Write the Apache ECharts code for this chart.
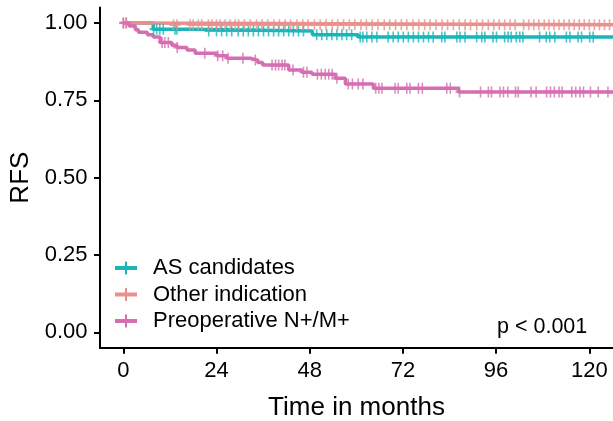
<!DOCTYPE html>
<html>
<head>
<meta charset="utf-8">
<script src="https://cdn.jsdelivr.net/npm/echarts@6/dist/echarts.min.js"></script>
<style>
  html, body { margin: 0; padding: 0; background: #fff; }
  #rfs-plot { width: 613px; height: 421px; }
</style>
</head>
<body>
<div id="rfs-plot"></div>
<script>
// group names
var groupNames = ['AS candidates', 'Other indication', 'Preoperative N+/M+'];
var groupColors = ['#1AB5B9', '#E8918D', '#D46FB2'];

// step times (months) and survival after each step
var asTimes = [0, 7.7, 17.0, 48.7, 60.5];
var asSurv = [1.0, 0.98, 0.974, 0.962, 0.955];
var otherTimes = [0, 2.0];
var otherSurv = [1.0, 0.994];
var preopTimes = [0, 1.5, 3.1, 3.9, 6.2, 7.7, 9.5, 12.5, 13.8, 16.4, 18.5, 24.1, 26.7, 32.7, 34.6, 35.9, 42.6, 46.0, 48.6, 54.6, 57.2, 64.4, 86.3];
var preopSurv = [1.0, 0.99, 0.978, 0.97, 0.962, 0.955, 0.937, 0.928, 0.921, 0.913, 0.902, 0.894, 0.886, 0.880, 0.872, 0.864, 0.848, 0.841, 0.834, 0.821, 0.803, 0.789, 0.777];

// censoring times (months)
var asCensor = [7.8, 8.6, 9.4, 10.3, 13.3, 13.8, 22.0, 24.0, 25.3, 26.6, 27.9, 29.6, 30.9, 32.2, 33.5, 34.8, 36.1, 37.4, 38.7, 40.0, 41.3, 42.6, 43.8, 45.1, 46.4,
  49.8, 51.1, 52.4, 53.7, 55.0, 56.3, 57.5, 58.8, 61.0, 61.7, 62.7, 64.0, 65.3, 68.2, 69.5, 70.8, 72.1, 73.4, 74.7, 76.0, 77.3, 78.6, 79.8,
  82.0, 82.8, 85.9, 86.7, 88.0, 91.0, 92.3, 93.1, 95.2, 96.1, 98.2, 99.1, 99.9, 101.2, 102.1, 102.9, 107.2, 108.9, 109.8, 111.1, 114.1, 115.0, 117.1, 118.0, 120.1, 121.0];
var otherCensor = [0, 0.6, 12.9, 13.8, 17.2, 18.0, 19.3, 20.2, 21.9, 22.8, 24.0, 24.9, 26.2, 27.5, 28.8, 29.7, 31.2, 32.7, 34.3, 35.7, 37.2, 38.8, 40.2, 41.7, 43.1, 44.7,
  46.2, 47.6, 49.2, 50.7, 52.2, 53.8, 55.2, 56.7, 58.2, 59.6, 61.2, 62.6, 64.1, 65.6, 67.2, 68.6, 70.1, 71.6, 73.0, 74.6, 76.1, 77.6, 79.0, 80.5, 82.1, 83.5,
  85.0, 86.5, 88.0, 89.4, 91.0, 92.5, 94.0, 95.4, 96.8, 98.2, 99.6, 100.9, 103.1, 104.4, 105.7, 107.0, 108.4, 109.6, 110.9, 112.2, 113.5, 114.8, 116.1,
  117.4, 118.7, 120.0, 121.3, 122.6, 123.9, 125.2];
var preopCensor = [0, 0.8, 10.0, 10.7, 11.6, 13.9, 21.0, 24.3, 25.6, 27.0, 30.8, 34.0, 38.3, 39.2, 40.0, 40.9, 41.6, 43.7, 46.4, 47.3, 50.0, 51.0, 52.0, 52.9,
  53.8, 55.0, 57.9, 59.0, 60.5, 61.7, 65.0, 65.8, 66.6, 70.0, 70.8, 73.0, 73.8, 76.0, 77.0, 83.3, 84.2, 86.6, 92.0, 94.0, 94.8, 97.0, 97.9, 99.0, 101.0,
  101.7, 105.0, 106.3, 109.0, 110.0, 111.0, 112.2, 113.0, 115.5, 116.5, 117.6, 118.5, 120.3, 122.3, 124.8];

var xTicks = [0, 24, 48, 72, 96, 120];
var yTicks = [0, 0.25, 0.5, 0.75, 1.0];
var xEnd = 126.1;

var plusPath = 'path://M4,0 L6,0 L6,10 L4,10 Z M0,4 L10,4 L10,6 L0,6 Z';
var legendPath = 'path://M0,4.5 L22,4.5 L22,8.5 L0,8.5 Z M10,0 L12,0 L12,13 L10,13 Z';

function stepData(times, surv) {
    var out = [];
    for (var i = 0; i < times.length; i++) {
        out.push([times[i], surv[i]]);
    }
    out.push([xEnd, surv[surv.length - 1]]);
    return out;
}

function survAt(times, surv, t) {
    var s = surv[0];
    for (var i = 0; i < times.length; i++) {
        if (times[i] <= t) s = surv[i];
    }
    return s;
}

function censorData(censor, times, surv) {
    var out = [];
    for (var i = 0; i < censor.length; i++) {
        out.push([censor[i], survAt(times, surv, censor[i])]);
    }
    return out;
}

var curves = [
    [asTimes, asSurv, asCensor],
    [otherTimes, otherSurv, otherCensor],
    [preopTimes, preopSurv, preopCensor]
];

var series = [];
for (var g = 0; g < curves.length; g++) {
    series.push({
        name: groupNames[g],
        type: 'line',
        step: 'end',
        showSymbol: false,
        data: stepData(curves[g][0], curves[g][1]),
        lineStyle: {color: groupColors[g], width: 3.5},
        itemStyle: {color: groupColors[g]},
        z: 2 + g
    });
}
for (var g = 0; g < curves.length; g++) {
    series.push({
        name: groupNames[g] + ' censored',
        type: 'scatter',
        symbol: plusPath,
        symbolSize: [8, 11],
        data: censorData(curves[g][2], curves[g][0], curves[g][1]),
        itemStyle: {color: groupColors[g]},
        z: 6 + g
    });
}

var dom = document.getElementById('rfs-plot');
var myChart = echarts.init(dom, null, {renderer: 'canvas'});
var option = {
    animation: false,
    backgroundColor: '#fff',
    textStyle: {fontFamily: 'Liberation Sans, Arial, sans-serif'},
    grid: {left: 100, right: 0, top: 7.5, bottom: 73.2, containLabel: false, outerBoundsMode: 'none'},
    legend: {
        orient: 'vertical',
        left: 115,
        top: 257,
        padding: 0,
        itemGap: 4.5,
        itemWidth: 22,
        itemHeight: 13,
        data: groupNames.map(function (n) { return {name: n, icon: legendPath}; }),
        textStyle: {fontSize: 22, color: '#000', padding: [0, 0, 0, 11]}
    },
    xAxis: {
        type: 'value',
        min: -6,
        max: xEnd,
        name: 'Time in months',
        nameLocation: 'middle',
        nameGap: 47,
        nameTextStyle: {fontSize: 26, color: '#000'},
        splitLine: {show: false},
        axisLine: {show: true, onZero: false, lineStyle: {color: '#000', width: 2}},
        axisTick: {show: true, length: 6, lineStyle: {color: '#000', width: 2}, customValues: xTicks},
        axisLabel: {fontSize: 22, color: '#000', margin: 12, customValues: xTicks}
    },
    yAxis: {
        type: 'value',
        min: -0.05,
        max: 1.05,
        name: 'RFS',
        nameLocation: 'middle',
        nameGap: 62,
        nameRotate: 90,
        nameTextStyle: {fontSize: 26, color: '#000'},
        splitLine: {show: false},
        axisLine: {show: true, onZero: false, lineStyle: {color: '#000', width: 2}},
        axisTick: {show: true, length: 6, lineStyle: {color: '#000', width: 2}, customValues: yTicks},
        axisLabel: {
            fontSize: 22, color: '#000', margin: 12.5, customValues: yTicks,
            formatter: function (v) { return v.toFixed(2); }
        }
    },
    graphic: [{
        type: 'text',
        left: 497,
        top: 316,
        style: {text: 'p < 0.001', fontSize: 21.5, fill: '#000', fontFamily: 'Liberation Sans, Arial, sans-serif'}
    }],
    series: series
};
myChart.setOption(option, true);
</script>
</body>
</html>
